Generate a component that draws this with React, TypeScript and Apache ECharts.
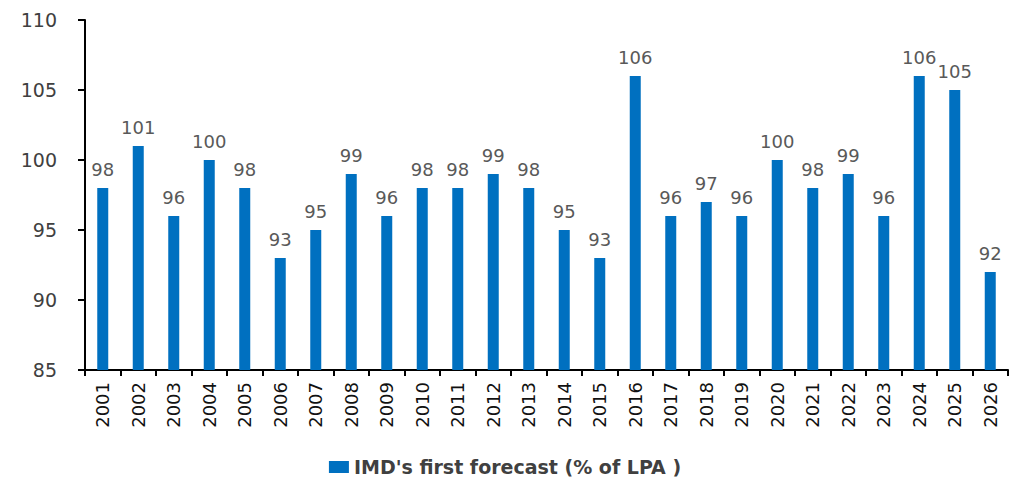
import React, { useEffect, useRef } from "react";
import * as echarts from "echarts";

const years = ["2001","2002","2003","2004","2005","2006","2007","2008","2009","2010","2011","2012","2013","2014","2015","2016","2017","2018","2019","2020","2021","2022","2023","2024","2025","2026"];
const forecast = [98,101,96,100,98,93,95,99,96,98,98,99,98,95,93,106,96,97,96,100,98,99,96,106,105,92];
const yTicks = { min: 85, max: 110, interval: 5 };
const seriesName = "IMD's first forecast (% of LPA )";

export default function App() {
  const ref = useRef<HTMLDivElement>(null);
  useEffect(() => {
    if (!ref.current) return;
    const chart = echarts.init(ref.current, null, { renderer: "svg" });
    const font = "'DejaVu Sans', 'Noto Sans', sans-serif";
    chart.setOption({
      animation: false,
      grid: { left: 85, right: 2, top: 20, bottom: 109, containLabel: false },
      legend: {
        top: 456,
        left: "center",
        padding: 0,
        itemWidth: 20,
        itemHeight: 12,
        itemGap: 6,
        icon: "rect",
        textStyle: { color: "#404040", fontSize: 19, fontWeight: "bold", fontFamily: font, lineHeight: 22 },
        data: [seriesName],
      },
      xAxis: {
        type: "category",
        data: years,
        axisLine: { lineStyle: { color: "#000", width: 2 } },
        axisTick: { show: true, length: 6, lineStyle: { color: "#000", width: 2 } },
        axisLabel: { rotate: 90, color: "#111", fontSize: 18, fontFamily: font, margin: 12 },
      },
      yAxis: {
        type: "value",
        min: yTicks.min,
        max: yTicks.max,
        interval: yTicks.interval,
        splitLine: { show: false },
        axisLine: { show: true, lineStyle: { color: "#000", width: 2 } },
        axisTick: { show: true, length: 7, lineStyle: { color: "#000", width: 2 } },
        axisLabel: { color: "#404040", fontSize: 19, fontFamily: font, margin: 28 },
      },
      series: [
        {
          name: seriesName,
          type: "bar",
          data: forecast,
          barWidth: 11,
          itemStyle: { color: "#0070C0" },
          label: {
            show: true,
            position: "top",
            distance: 10,
            color: "#595959",
            fontSize: 18,
            fontFamily: font,
          },
        },
      ],
    });
    return () => chart.dispose();
  }, []);
  return <div ref={ref} style={{ width: 1010, height: 479, position: "absolute", left: 0, top: 0 }} />;
}
